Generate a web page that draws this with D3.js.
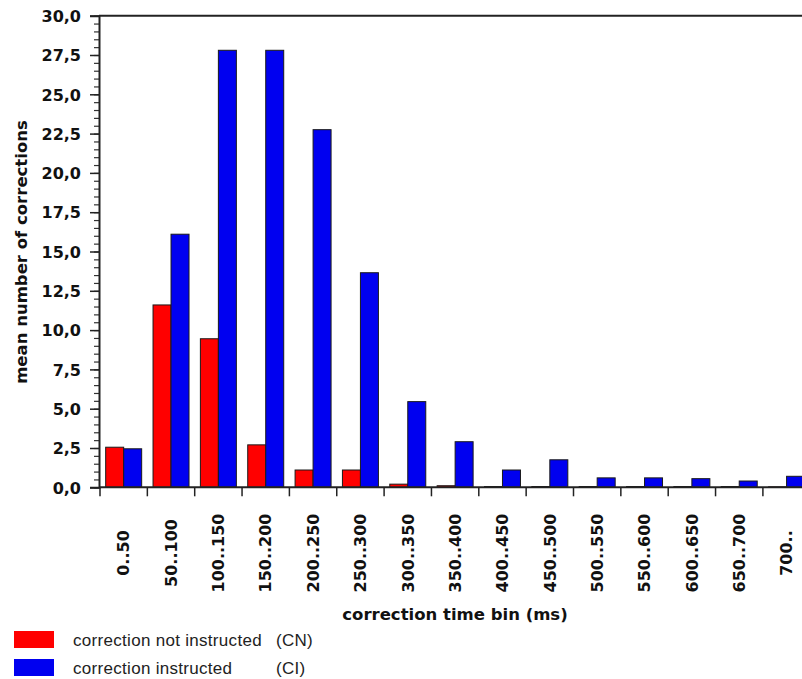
<!DOCTYPE html>
<html>
<head>
<meta charset="utf-8">
<script src="https://cdn.jsdelivr.net/npm/d3@7"></script>
<style>
  html, body { margin: 0; padding: 0; background: #fff; overflow: hidden; }
  svg { display: block; }
</style>
</head>
<body>
<svg id="chart" width="802" height="679"></svg>
<script>
// Correction time bins (ms)
const bins = ["0..50", "50..100", "100..150", "150..200", "200..250", "250..300",
  "300..350", "350..400", "400..450", "450..500", "500..550", "550..600",
  "600..650", "650..700", "700.."];

// Mean number of corrections per bin
const notInstructed = [2.55, 11.6, 9.45, 2.7, 1.1, 1.1, 0.2, 0.1, 0.05, 0.05, 0.05, 0.05, 0.05, 0.05, 0.03];
const instructed    = [2.45, 16.1, 27.8, 27.8, 22.75, 13.65, 5.45, 2.9, 1.1, 1.75, 0.6, 0.6, 0.55, 0.4, 0.7];

const yTicks = [0, 2.5, 5, 7.5, 10, 12.5, 15, 17.5, 20, 22.5, 25, 27.5, 30];

const seriesNames = ["correction not instructed", "correction instructed"];
const seriesCodes = ["(CN)", "(CI)"];
const seriesColors = ["#ff0000", "#0000f0"];

const svg = d3.select("#chart");
const plotLeft = 100, plotBottom = 487.3, plotTop = 15.7;
const step = 47.35;

const x = d3.scaleBand()
  .domain(bins)
  .range([plotLeft, plotLeft + step * bins.length])
  .paddingInner(0.24)
  .paddingOuter(0.12);

const sub = d3.scaleBand()
  .domain([0, 1])
  .range([0, x.bandwidth()]);

const y = d3.scaleLinear().domain([0, 30]).range([plotBottom, plotTop]);

const fmt = v => d3.format(".1f")(v).replace(".", ",");
const boldFamily = "'DejaVu Sans', Verdana, sans-serif";
const plainFamily = "'Liberation Sans', Arial, sans-serif";
const tickSize = 16, titleSize = 16.5;

// Bars
const series = [notInstructed, instructed];
series.forEach((vals, si) => {
  svg.append("g")
    .selectAll("rect")
    .data(vals)
    .join("rect")
    .attr("x", (d, i) => x(bins[i]) + sub(si))
    .attr("y", d => y(d))
    .attr("width", sub.bandwidth())
    .attr("height", d => y(0) - y(d))
    .attr("fill", seriesColors[si])
    .attr("stroke", "#1a1a1a")
    .attr("stroke-width", 1);
});

// Top frame line
svg.append("line")
  .attr("x1", plotLeft - 1).attr("x2", 802)
  .attr("y1", y(30)).attr("y2", y(30))
  .attr("stroke", "#222").attr("stroke-width", 2);

// Y axis with minor ticks every 0.5
const yAxisG = svg.append("g").attr("transform", `translate(${plotLeft - 1},0)`);
yAxisG.append("g")
  .call(d3.axisLeft(y).tickValues(d3.range(0, 30.01, 0.5)).tickSize(5).tickFormat(""))
  .call(g => g.select(".domain").remove())
  .selectAll("line").attr("stroke", "#333").attr("stroke-width", 1.2);
yAxisG.append("g")
  .call(d3.axisLeft(y).tickValues(yTicks).tickSize(9).tickPadding(9).tickFormat(fmt))
  .call(g => g.select(".domain").attr("stroke", "#222").attr("stroke-width", 2))
  .call(g => g.selectAll("line").attr("stroke", "#222").attr("stroke-width", 1.5))
  .call(g => g.selectAll("text")
    .attr("font-family", boldFamily)
    .attr("font-weight", "bold")
    .attr("font-size", tickSize)
    .attr("fill", "#111")
    .attr("dy", "0.36em"));

// X axis: ticks at bin boundaries
const xAxisG = svg.append("g");
xAxisG.append("line")
  .attr("x1", plotLeft - 1).attr("x2", 802)
  .attr("y1", plotBottom).attr("y2", plotBottom)
  .attr("stroke", "#222").attr("stroke-width", 2);
xAxisG.selectAll("line.tick")
  .data(bins)
  .join("line")
  .attr("class", "tick")
  .attr("x1", d => x(d) - x.step() * x.paddingOuter())
  .attr("x2", d => x(d) - x.step() * x.paddingOuter())
  .attr("y1", plotBottom).attr("y2", plotBottom + 9)
  .attr("stroke", "#222").attr("stroke-width", 1.5);

// Rotated bin labels
xAxisG.selectAll("text")
  .data(bins)
  .join("text")
  .attr("transform", d => `translate(${x(d) + x.bandwidth() / 2},553) rotate(-90)`)
  .attr("text-anchor", "middle")
  .attr("dy", "0.36em")
  .attr("font-family", boldFamily)
  .attr("font-weight", "bold")
  .attr("font-size", tickSize)
  .attr("fill", "#111")
  .text(d => d);

// Axis titles
svg.append("text")
  .attr("x", 455).attr("y", 620)
  .attr("text-anchor", "middle")
  .attr("font-family", boldFamily)
  .attr("font-weight", "bold")
  .attr("font-size", titleSize)
  .attr("fill", "#111")
  .text("correction time bin (ms)");

svg.append("text")
  .attr("transform", "translate(21,252) rotate(-90)")
  .attr("text-anchor", "middle")
  .attr("dy", "0.36em")
  .attr("font-family", boldFamily)
  .attr("font-weight", "bold")
  .attr("font-size", titleSize)
  .attr("fill", "#111")
  .text("mean number of corrections");

// Legend
const legend = svg.append("g");
seriesNames.forEach((name, i) => {
  const cy = 639.5 + i * 28;
  legend.append("rect")
    .attr("x", 14).attr("y", cy - 8.5)
    .attr("width", 40).attr("height", 17)
    .attr("fill", seriesColors[i]);
  legend.append("text")
    .attr("x", 73).attr("y", cy).attr("dy", "0.36em")
    .attr("font-family", plainFamily)
    .attr("font-size", 17)
    .attr("letter-spacing", 0.3)
    .attr("fill", "#222")
    .text(name);
  legend.append("text")
    .attr("x", 276).attr("y", cy).attr("dy", "0.36em")
    .attr("font-family", plainFamily)
    .attr("font-size", 17)
    .attr("letter-spacing", 0.3)
    .attr("fill", "#222")
    .text(seriesCodes[i]);
});
</script>
</body>
</html>
